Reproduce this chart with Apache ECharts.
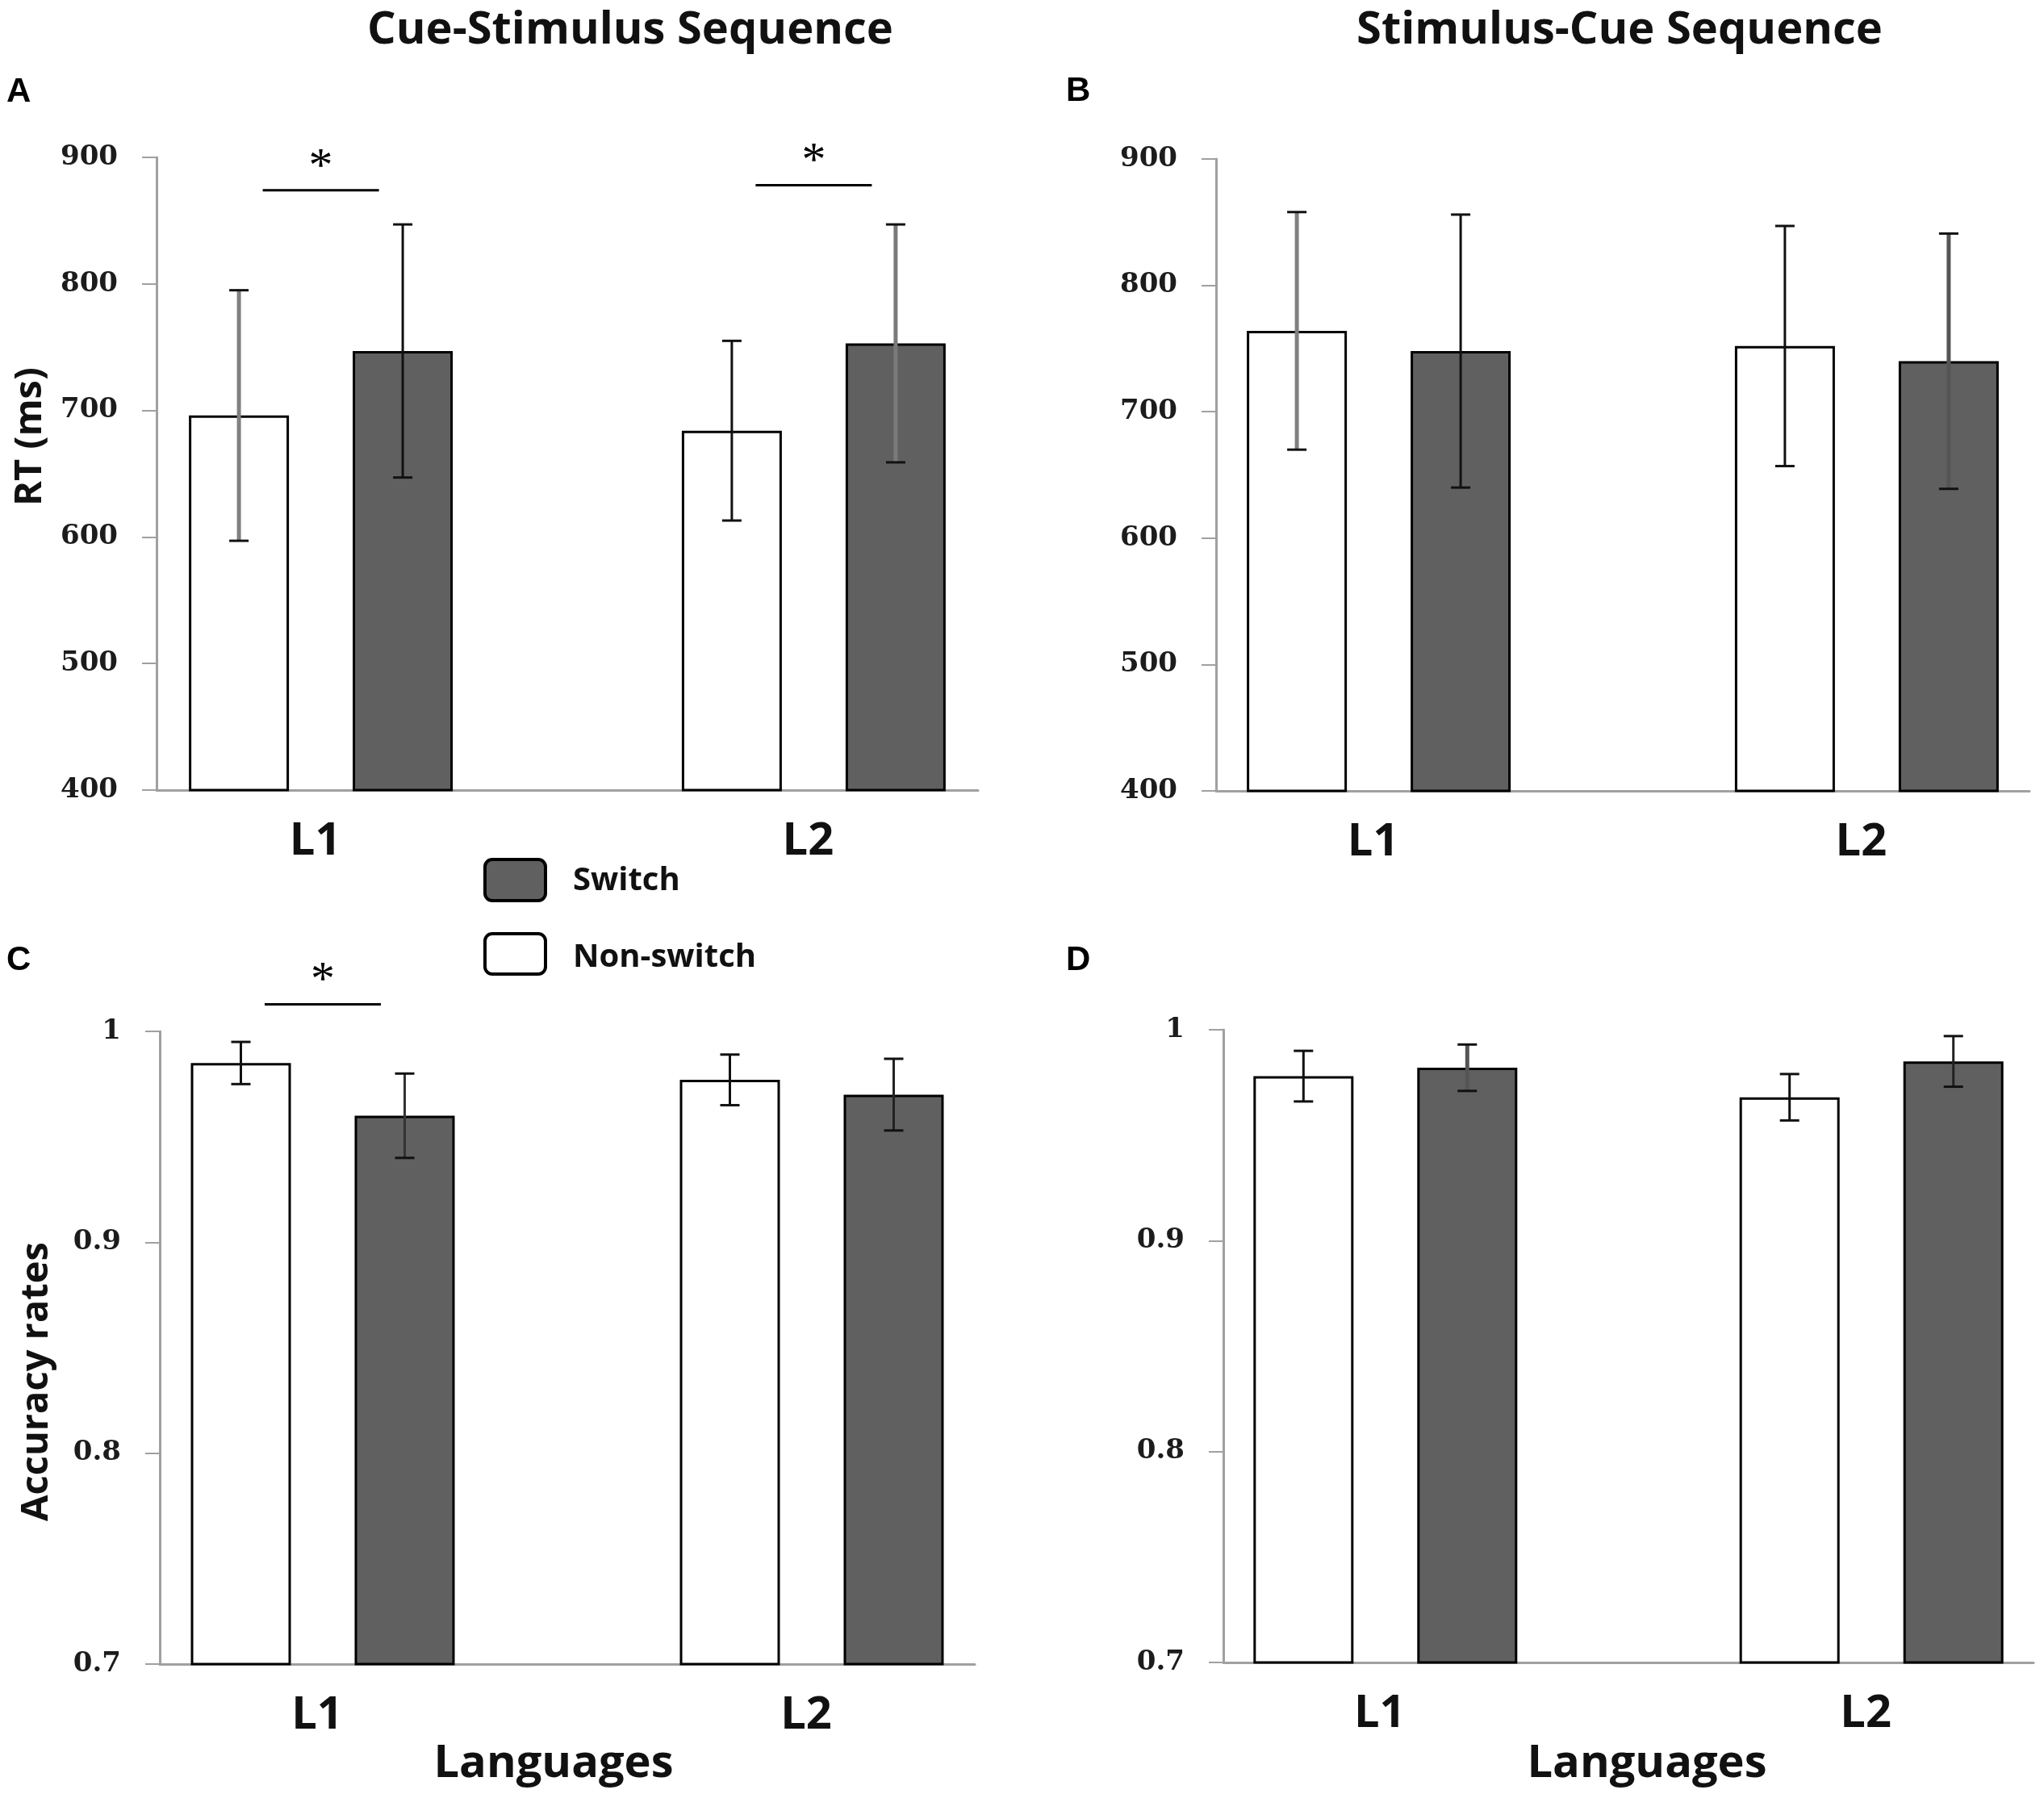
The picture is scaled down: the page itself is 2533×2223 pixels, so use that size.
<!DOCTYPE html>
<html>
<head>
<meta charset="utf-8">
<script src="https://cdn.jsdelivr.net/npm/echarts@6/dist/echarts.min.js"></script>
<style>html,body{margin:0;padding:0;background:#fff}#c{width:2533px;height:2223px}</style>
</head>
<body>
<div id="c"></div>
<script>
// ---------- data ----------
const categories = ['L1', 'L2'];
const seriesNames = ['Non-switch', 'Switch'];
const rtTicks = [400, 500, 600, 700, 800, 900];
const accTicks = [0.7, 0.8, 0.9, 1];

// A: Cue-Stimulus, RT
const csRtNonSwitch = [696, 684];
const csRtNonSwitchErr = [99, 71];
const csRtSwitch = [747, 753];
const csRtSwitchErr = [100, 94];
const csRtSig = [874, 878];

// B: Stimulus-Cue, RT
const scRtNonSwitch = [764, 752];
const scRtNonSwitchErr = [94, 95];
const scRtSwitch = [748, 740];
const scRtSwitchErr = [108, 101];
const scRtSig = [null, null];

// C: Cue-Stimulus, accuracy
const csAccNonSwitch = [0.985, 0.977];
const csAccNonSwitchErr = [0.010, 0.012];
const csAccSwitch = [0.960, 0.970];
const csAccSwitchErr = [0.020, 0.017];
const csAccSig = [1.0128, null];

// D: Stimulus-Cue, accuracy
const scAccNonSwitch = [0.978, 0.968];
const scAccNonSwitchErr = [0.012, 0.011];
const scAccSwitch = [0.982, 0.985];
const scAccSwitchErr = [0.011, 0.012];
const scAccSig = [null, null];

// ---------- styles ----------
const errShades = [
  [['#808080', '#111'], ['#111', '#7a7a7a']],   // A  [nonSwitch L1,L2], [switch L1,L2]
  [['#808080', '#111'], ['#111', '#555']],      // B
  [['#111', '#111'], ['#333', '#222']],         // C
  [['#111', '#111'], ['#555', '#222']]          // D
];
const BAR_W = 124, BAR_GAP = 79;
const OFF = (BAR_W + BAR_GAP) / 2;
const SANS = 'Open Sans';

// category slots: axis has 6 points, L1 at 1, L2 at 4
const slotIdx = [1, 4];
const slots = ['', '', '', '', '', ''];
categories.forEach((c, i) => { slots[slotIdx[i]] = c; });

const panels = [
  {grid: {left: 194, top: 195, width: 1018, height: 784}, ticks: rtTicks,
   ns: csRtNonSwitch, nsE: csRtNonSwitchErr, sw: csRtSwitch, swE: csRtSwitchErr, sig: csRtSig},
  {grid: {left: 1507, top: 197, width: 1008, height: 783}, ticks: rtTicks,
   ns: scRtNonSwitch, nsE: scRtNonSwitchErr, sw: scRtSwitch, swE: scRtSwitchErr, sig: scRtSig},
  {grid: {left: 198, top: 1278, width: 1010, height: 784}, ticks: accTicks,
   ns: csAccNonSwitch, nsE: csAccNonSwitchErr, sw: csAccSwitch, swE: csAccSwitchErr, sig: csAccSig},
  {grid: {left: 1516, top: 1276, width: 1004, height: 784}, ticks: accTicks,
   ns: scAccNonSwitch, nsE: scAccNonSwitchErr, sw: scAccSwitch, swE: scAccSwitchErr, sig: scAccSig}
];

function toSlots(arr) {
  const out = slots.map(() => null);
  arr.forEach((v, i) => { out[slotIdx[i]] = v; });
  return out;
}

const grids = [], xAxes = [], yAxes = [], series = [];
panels.forEach((p, gi) => {
  grids.push(Object.assign({containLabel: false}, p.grid));
  xAxes.push({
    type: 'category', gridIndex: gi, data: slots, boundaryGap: false,
    axisLine: {show: true, lineStyle: {color: '#a0a0a0', width: 3}},
    axisTick: {show: false},
    axisLabel: {interval: 0, margin: 36, fontFamily: SANS, fontWeight: 'bold', fontSize: 56, color: '#111',
      padding: [0, 14, 0, 0]},
    splitLine: {show: false}
  });
  const t = p.ticks;
  yAxes.push({
    type: 'value', gridIndex: gi, min: t[0], max: t[t.length - 1],
    interval: +(t[1] - t[0]).toFixed(6),
    axisLine: {show: true, lineStyle: {color: '#a0a0a0', width: 3}},
    axisTick: {show: true, length: 18, lineStyle: {color: '#a0a0a0', width: 2}},
    axisLabel: {margin: 48, fontFamily: 'DejaVu Serif', fontWeight: 'bold', fontSize: 34, color: '#1c1c1c',
      formatter: v => String(+v.toFixed(2))},
    splitLine: {show: false}
  });
  series.push({
    name: seriesNames[0], type: 'bar', xAxisIndex: gi, yAxisIndex: gi, data: toSlots(p.ns),
    barWidth: BAR_W, barGap: (BAR_GAP / BAR_W * 100).toFixed(1) + '%',
    itemStyle: {color: '#ffffff', borderColor: '#000', borderWidth: 3}, z: 2
  });
  series.push({
    name: seriesNames[1], type: 'bar', xAxisIndex: gi, yAxisIndex: gi, data: toSlots(p.sw),
    barWidth: BAR_W, barGap: (BAR_GAP / BAR_W * 100).toFixed(1) + '%',
    itemStyle: {color: '#606060', borderColor: '#000', borderWidth: 3}, z: 2
  });
  const errData = [];
  categories.forEach((c, i) => {
    errData.push([slotIdx[i], p.ns[i], p.nsE[i], 0, i]);
    errData.push([slotIdx[i], p.sw[i], p.swE[i], 1, i]);
  });
  series.push({
    type: 'custom', xAxisIndex: gi, yAxisIndex: gi, data: errData, z: 5, silent: true,
    renderItem: (params, api) => {
      const x = api.value(0), v = api.value(1), e = api.value(2), side = api.value(3), ci = api.value(4);
      const top = api.coord([x, v + e]), bot = api.coord([x, v - e]);
      const cx = top[0] + (side ? OFF : -OFF);
      const col = errShades[gi][side][ci];
      const gray = col !== '#111' && col !== '#222' && col !== '#333';
      return {type: 'group', children: [
        {type: 'line', shape: {x1: cx, y1: top[1], x2: cx, y2: bot[1]}, style: {stroke: col, lineWidth: gray ? 5 : 3}},
        {type: 'line', shape: {x1: cx - 12, y1: top[1], x2: cx + 12, y2: top[1]}, style: {stroke: '#111', lineWidth: 3}},
        {type: 'line', shape: {x1: cx - 12, y1: bot[1], x2: cx + 12, y2: bot[1]}, style: {stroke: '#111', lineWidth: 3}}
      ]};
    }
  });
  const sigData = [];
  p.sig.forEach((s, i) => { if (s != null) sigData.push([slotIdx[i], s]); });
  if (sigData.length) {
    series.push({
      type: 'custom', xAxisIndex: gi, yAxisIndex: gi, data: sigData, z: 5, silent: true, clip: false,
      renderItem: (params, api) => {
        const pt = api.coord([api.value(0), api.value(1)]);
        return {type: 'group', children: [
          {type: 'line', shape: {x1: pt[0] - 72, y1: pt[1], x2: pt[0] + 72, y2: pt[1]}, style: {stroke: '#000', lineWidth: 3}},
          {type: 'text', x: pt[0], y: pt[1] - 28, style: {text: '*', fontFamily: 'Liberation Serif', fontSize: 60,
            fill: '#000', align: 'center', verticalAlign: 'middle'}}
        ]};
      }
    });
  }
});

const bold = {fontFamily: SANS, fontWeight: 'bold', fill: '#111'};
const txt = (o) => Object.assign({}, bold, o);
const letter = {fontFamily: 'Liberation Sans', fontWeight: 'bold', fontSize: 42, fill: '#000', align: 'left', verticalAlign: 'middle'};
const graphic = [
  {type: 'text', x: 781, y: 38, style: txt({text: 'Cue-Stimulus Sequence', fontSize: 56, align: 'center', verticalAlign: 'middle'})},
  {type: 'text', x: 2007, y: 38, style: txt({text: 'Stimulus-Cue Sequence', fontSize: 56, align: 'center', verticalAlign: 'middle'})},
  {type: 'text', x: 8, y: 114, style: Object.assign({text: 'A'}, letter)},
  {type: 'text', x: 1321, y: 113, style: Object.assign({text: 'B'}, letter)},
  {type: 'text', x: 8, y: 1190, style: Object.assign({text: 'C'}, letter)},
  {type: 'text', x: 1321, y: 1190, style: Object.assign({text: 'D'}, letter)},
  {type: 'text', x: 38, y: 541, rotation: Math.PI / 2, style: txt({text: 'RT (ms)', fontSize: 47, align: 'center', verticalAlign: 'middle'})},
  {type: 'text', x: 46, y: 1712, rotation: Math.PI / 2, style: txt({text: 'Accuracy rates', fontSize: 47, align: 'center', verticalAlign: 'middle'})},
  {type: 'text', x: 686, y: 2186, style: txt({text: 'Languages', fontSize: 56, align: 'center', verticalAlign: 'middle'})},
  {type: 'text', x: 2041, y: 2186, style: txt({text: 'Languages', fontSize: 56, align: 'center', verticalAlign: 'middle'})},
  // legend
  {type: 'rect', shape: {x: 601, y: 1065, width: 75, height: 51, r: 9}, style: {fill: '#606060', stroke: '#000', lineWidth: 4}},
  {type: 'text', x: 710, y: 1092, style: txt({text: seriesNames[1], fontSize: 40, align: 'left', verticalAlign: 'middle'})},
  {type: 'rect', shape: {x: 601, y: 1157, width: 75, height: 50, r: 9}, style: {fill: '#ffffff', stroke: '#000', lineWidth: 4}},
  {type: 'text', x: 710, y: 1187, style: txt({text: seriesNames[0], fontSize: 40, align: 'left', verticalAlign: 'middle'})}
];

const chart = echarts.init(document.getElementById('c'), null, {renderer: 'canvas'});
chart.setOption({
  animation: false,
  backgroundColor: '#ffffff',
  grid: grids, xAxis: xAxes, yAxis: yAxes, series: series, graphic: graphic
});
</script>
</body>
</html>
